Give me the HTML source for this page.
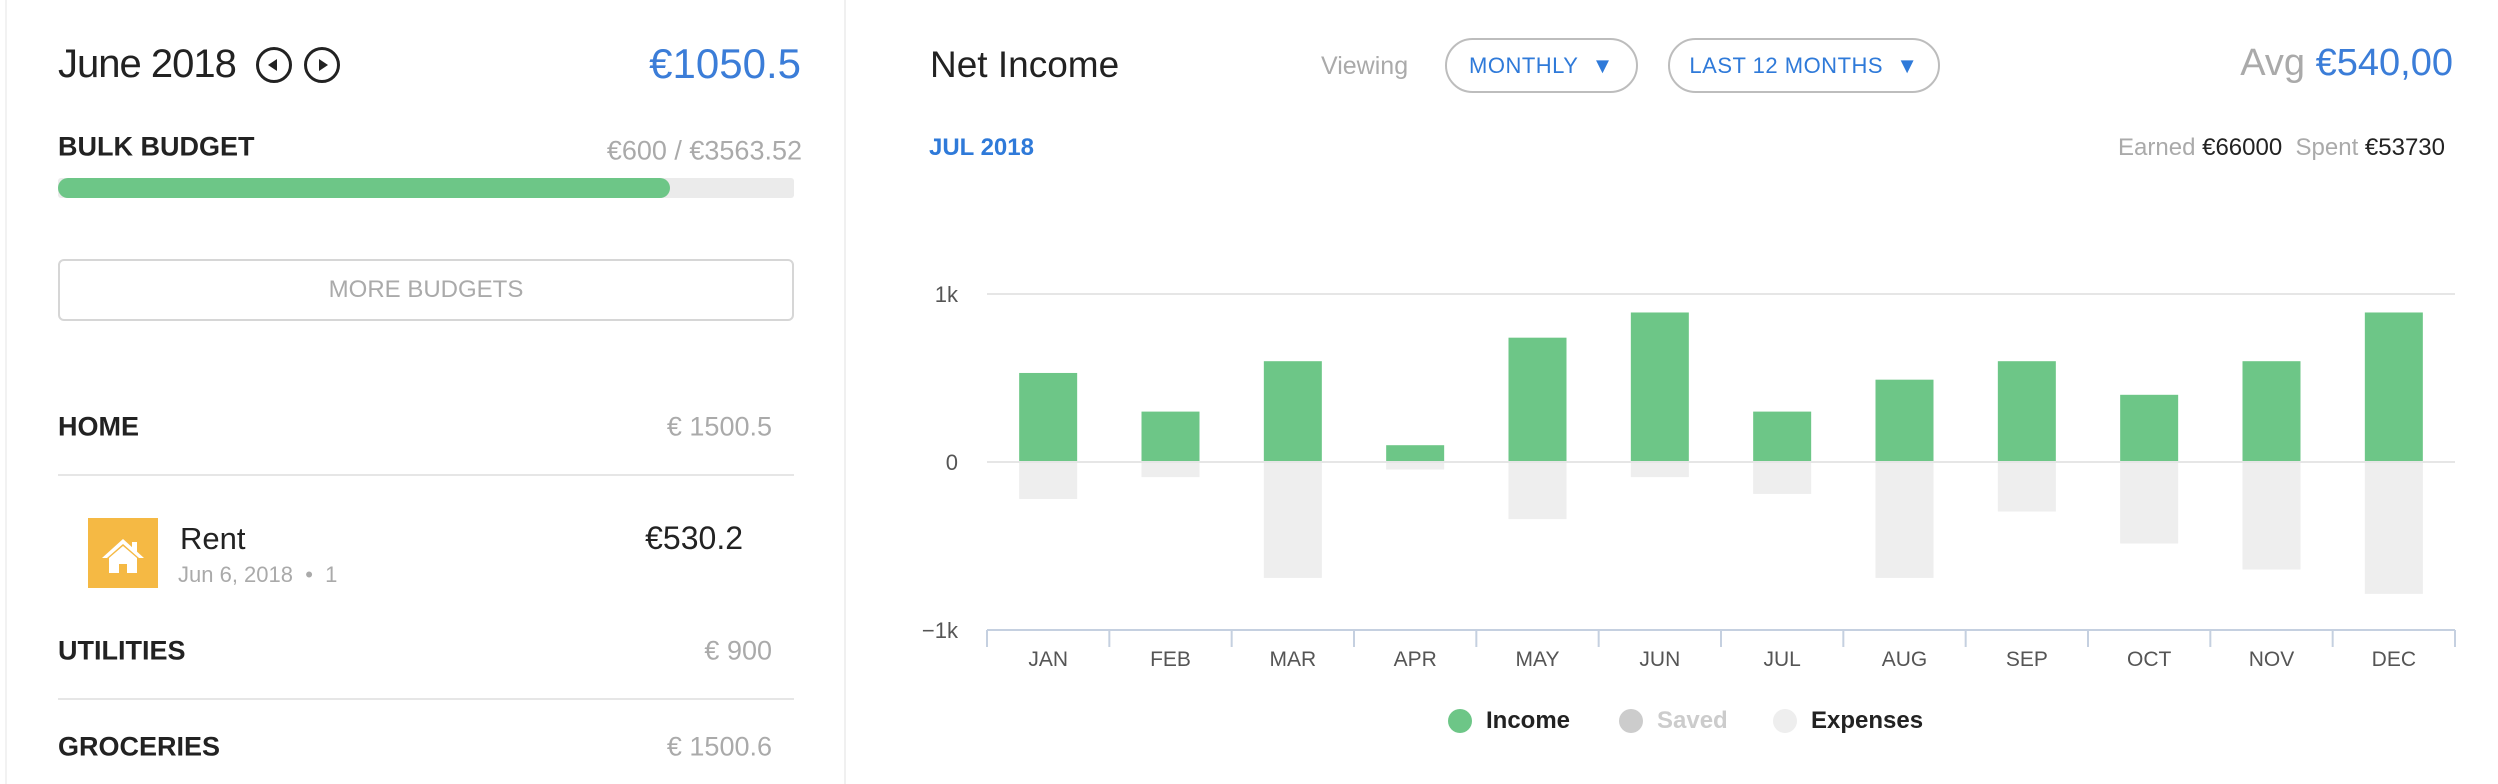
<!DOCTYPE html>
<html><head><meta charset="utf-8"><style>
*{margin:0;padding:0;box-sizing:border-box}
body{width:2498px;height:784px;background:#fff;font-family:"Liberation Sans",sans-serif;position:relative;overflow:hidden;color:#222}
.a{position:absolute;white-space:nowrap}
.lb{font-weight:bold;font-size:27px;color:#222;transform:translateY(-50%)}
.gv{font-size:27px;color:#aaa;transform:translateY(-50%)}
.hr{position:absolute;left:58px;width:736px;height:2px;background:#e6e6e6}
.btn{position:absolute;border:2px solid #bdbdbd;border-radius:28px;color:#2f7ad9;font-size:22px;display:flex;align-items:center;justify-content:center;letter-spacing:0.5px}
</style></head><body>
<div class="a" style="left:5px;top:0;width:2px;height:784px;background:#f2f2f2"></div>
<div class="a" style="left:844px;top:0;width:2px;height:784px;background:#f0f0f0"></div>

<div class="a" style="left:58px;top:42px;font-size:40px;font-weight:300;color:#222;letter-spacing:-1px">June 2018</div>
<svg class="a" style="left:255px;top:46px" width="38" height="38"><circle cx="19" cy="19" r="16.5" fill="none" stroke="#222" stroke-width="3"/><polygon points="13,19 22,13 22,25" fill="#222"/></svg>
<svg class="a" style="left:303px;top:46px" width="38" height="38"><circle cx="19" cy="19" r="16.5" fill="none" stroke="#222" stroke-width="3"/><polygon points="25,19 16,13 16,25" fill="#222"/></svg>
<div class="a" style="right:1697px;top:40px;font-size:42px;color:#3b7dd8">€1050.5</div>

<div class="a lb" style="left:58px;top:147px">BULK BUDGET</div>
<div class="a gv" style="right:1696px;top:151px">€600 / €3563.52</div>
<div class="a" style="left:58px;top:178px;width:736px;height:20px;background:#ebebeb;border-radius:3px"></div>
<div class="a" style="left:58px;top:178px;width:612px;height:20px;background:#6dc687;border-radius:10px"></div>

<div class="a" style="left:58px;top:259px;width:736px;height:62px;border:2px solid #d6d6d6;border-radius:6px;color:#aaa;font-size:24px;display:flex;align-items:center;justify-content:center">MORE BUDGETS</div>

<div class="a lb" style="left:58px;top:427px">HOME</div>
<div class="a gv" style="right:1726px;top:427px">€ 1500.5</div>
<div class="hr" style="top:474px"></div>

<div class="a" style="left:88px;top:518px;width:70px;height:70px;background:#f5b944">
<svg width="70" height="70"><polygon points="35,21 14,40 19,40 35,26 51,40 56,40" fill="#fff"/><rect x="44" y="24" width="5" height="10" fill="#fff"/><path d="M21,40 L35,28 L49,40 L49,55 L39,55 L39,46 L31,46 L31,55 L21,55Z" fill="#fff"/></svg></div>
<div class="a" style="left:180px;top:521px;font-size:31px;font-weight:300;color:#222">Rent</div>
<div class="a" style="left:178px;top:562px;font-size:22px;color:#aaa">Jun 6, 2018 &nbsp;•&nbsp; 1</div>
<div class="a" style="right:1755px;top:520px;font-size:32px;color:#222">€530.2</div>

<div class="a lb" style="left:58px;top:651px">UTILITIES</div>
<div class="a gv" style="right:1726px;top:651px">€ 900</div>
<div class="hr" style="top:698px"></div>
<div class="a lb" style="left:58px;top:747px">GROCERIES</div>
<div class="a gv" style="right:1726px;top:747px">€ 1500.6</div>

<div class="a" style="left:930px;top:44px;font-size:37px;font-weight:300;color:#222">Net Income</div>
<div class="a" style="left:1321px;top:52px;font-size:25px;color:#aaa">Viewing</div>
<div class="btn" style="left:1445px;top:38px;width:193px;height:55px">MONTHLY&nbsp;&nbsp;▼</div>
<div class="btn" style="left:1668px;top:38px;width:272px;height:55px">LAST 12 MONTHS&nbsp;&nbsp;▼</div>
<div class="a" style="right:45px;top:42px;font-size:38px;font-weight:300"><span style="color:#aaa">Avg</span> <span style="color:#3b7dd8">€540,00</span></div>
<div class="a" style="left:929px;top:134px;font-size:24px;font-weight:bold;color:#2f7ad9">JUL 2018</div>
<div class="a" style="right:53px;top:134px;font-size:24px;color:#222"><span style="color:#aaa">Earned</span> €66000 &nbsp;<span style="color:#aaa">Spent</span> €53730</div>

<svg id="chart" class="a" style="left:0;top:0" width="2498" height="784"></svg>

<div class="a" style="left:1448px;top:707px;font-size:24px;font-weight:bold;color:#222;display:flex;align-items:center"><span style="width:24px;height:24px;border-radius:50%;background:#6dc687;display:inline-block;margin-right:14px"></span>Income</div>
<div class="a" style="left:1619px;top:707px;font-size:24px;font-weight:bold;color:#ccc;display:flex;align-items:center"><span style="width:24px;height:24px;border-radius:50%;background:#ccc;display:inline-block;margin-right:14px"></span>Saved</div>
<div class="a" style="left:1773px;top:707px;font-size:24px;font-weight:bold;color:#222;display:flex;align-items:center"><span style="width:24px;height:24px;border-radius:50%;background:#eee;display:inline-block;margin-right:14px"></span>Expenses</div>

<script>
const months=["JAN","FEB","MAR","APR","MAY","JUN","JUL","AUG","SEP","OCT","NOV","DEC"];
const income=[530,300,600,100,740,890,300,490,600,400,600,890];
const expenses=[-220,-90,-690,-45,-340,-90,-190,-690,-295,-485,-640,-785];
const tickValues=[1000,0,-1000];
const tickLabels=["1k","0","−1k"];
const NS="http://www.w3.org/2000/svg";
const svg=document.getElementById('chart');
const x0=987,x1=2455,bw=(x1-x0)/months.length,barW=58;
function y(v){return 462-v*0.168;}
function xc(i){return x0+bw*(i+0.5);}
function mk(t,a){const e=document.createElementNS(NS,t);for(const k in a)e.setAttribute(k,a[k]);svg.appendChild(e);return e;}
tickValues.forEach((v,i)=>{
 if(v!==-1000){const g=mk('line',{x1:x0,x2:x1,y1:y(v),y2:y(v),stroke:'#e6e6e6','stroke-width':2});
 
 }
 const t=mk('text',{x:958,y:y(v)+8,'text-anchor':'end','font-size':22,fill:'#555','font-family':'Liberation Sans, sans-serif'});
 t.textContent=tickLabels[i];
 
 
});
months.forEach((m,i)=>{
 const r1=mk('rect',{x:xc(i)-barW/2,y:y(income[i]),width:barW,height:y(0)-y(income[i])-1,fill:'#6dc687'});
 
 
 const r2=mk('rect',{x:xc(i)-barW/2,y:y(0)+1,width:barW,height:y(expenses[i])-y(0)-1,fill:'#eeeeee'});
 
 
 const t=mk('text',{x:xc(i),y:666,'text-anchor':'middle','font-size':21,fill:'#555','font-family':'Liberation Sans, sans-serif'});
 t.textContent=m;
 
 
});
const ax=mk('line',{x1:x0,x2:x1,y1:y(-1000),y2:y(-1000),stroke:'#c5d0e0','stroke-width':2});


for(let i=0;i<=months.length;i++){
 const tk=mk('line',{x1:x0+bw*i,x2:x0+bw*i,y1:y(-1000),y2:647,stroke:'#c5d0e0','stroke-width':2});
 
 
}
</script>
</body></html>
